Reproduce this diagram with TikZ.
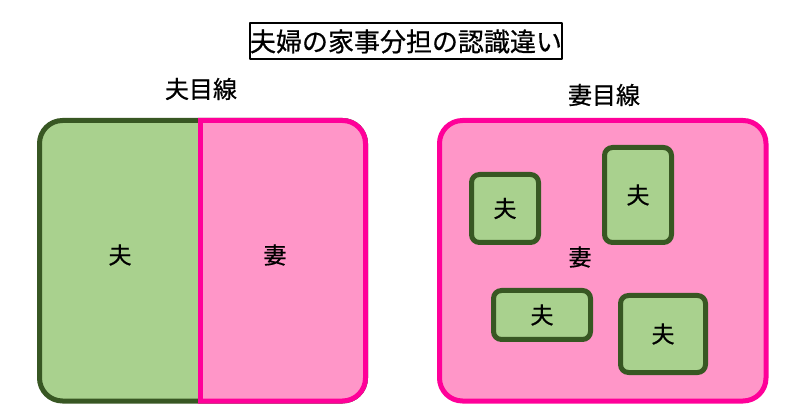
\documentclass[tikz,border=0pt]{standalone}
\usepackage{fontspec}
\setmainfont{Noto Sans CJK JP}[BoldFont=Noto Sans CJK JP, BoldFeatures={FakeBold=0.6}]
\definecolor{ottoline}{HTML}{385723}
\definecolor{ottofill}{HTML}{A9D18E}
\definecolor{tsumaline}{HTML}{FF0099}
\definecolor{tsumafill}{HTML}{FF96C8}
\tikzset{
  ottobig/.style={draw=ottoline, fill=ottofill, line width=5pt, rounded corners=23pt},
  tsumabig/.style={draw=tsumaline, fill=tsumafill, line width=5pt, rounded corners=23pt},
  ottobox/.style={draw=ottoline, fill=ottofill, line width=5pt, rounded corners=8pt, font=\fontsize{23}{23}\selectfont\bfseries, inner sep=0pt},
  moji/.style={font=\fontsize{23}{23}\selectfont\bfseries, inner sep=0pt}
}
\begin{document}
\begin{tikzpicture}[x=1pt, y=-1pt, line join=round]
\useasboundingbox[fill=white] (0,0) rectangle (800,419);
\path
(39.5,120.5) coordinate (A)
(365.5,401) coordinate (B)
(200.5,120.5) coordinate (M)
(200.5,401) coordinate (N)
(439.5,120.5) coordinate (C)
(766,401) coordinate (D)
;
% title
\node[draw=black, line width=2pt, minimum width=312pt, minimum height=36pt, inner sep=0pt,
  font=\fontsize{26}{26}\selectfont\bfseries] (T) at (406,41.5) {夫婦の家事分担の認識違い};
\node[moji, font=\fontsize{24}{24}\selectfont\bfseries] (Lo) at (201,89) {夫目線};
\node[moji, font=\fontsize{24}{24}\selectfont\bfseries] (Lt) at (604,95) {妻目線};
% left: husband's view
\draw[ottobig] (A) rectangle (B);
\begin{scope}
\clip (198,100) rectangle (390,419);
\draw[tsumabig] (A) rectangle (B);
\end{scope}
\draw[tsumaline, line width=5pt] (M)--(N);
\node[moji] (o) at (120,255) {夫};
\node[moji] (t) at (275,255) {妻};
% right: wife's view
\draw[tsumabig] (C) rectangle (D);
\node[moji] (t') at (580,257) {妻};
\foreach \n/\p/\w/\h in {o1/{505,208.5}/67/68, o2/{638,195}/67/95, o3/{542,315}/97/49, o4/{663,334}/85/77}
  \node[ottobox, minimum width=\w pt, minimum height=\h pt] (\n) at (\p) {夫};
\end{tikzpicture}
\end{document}
